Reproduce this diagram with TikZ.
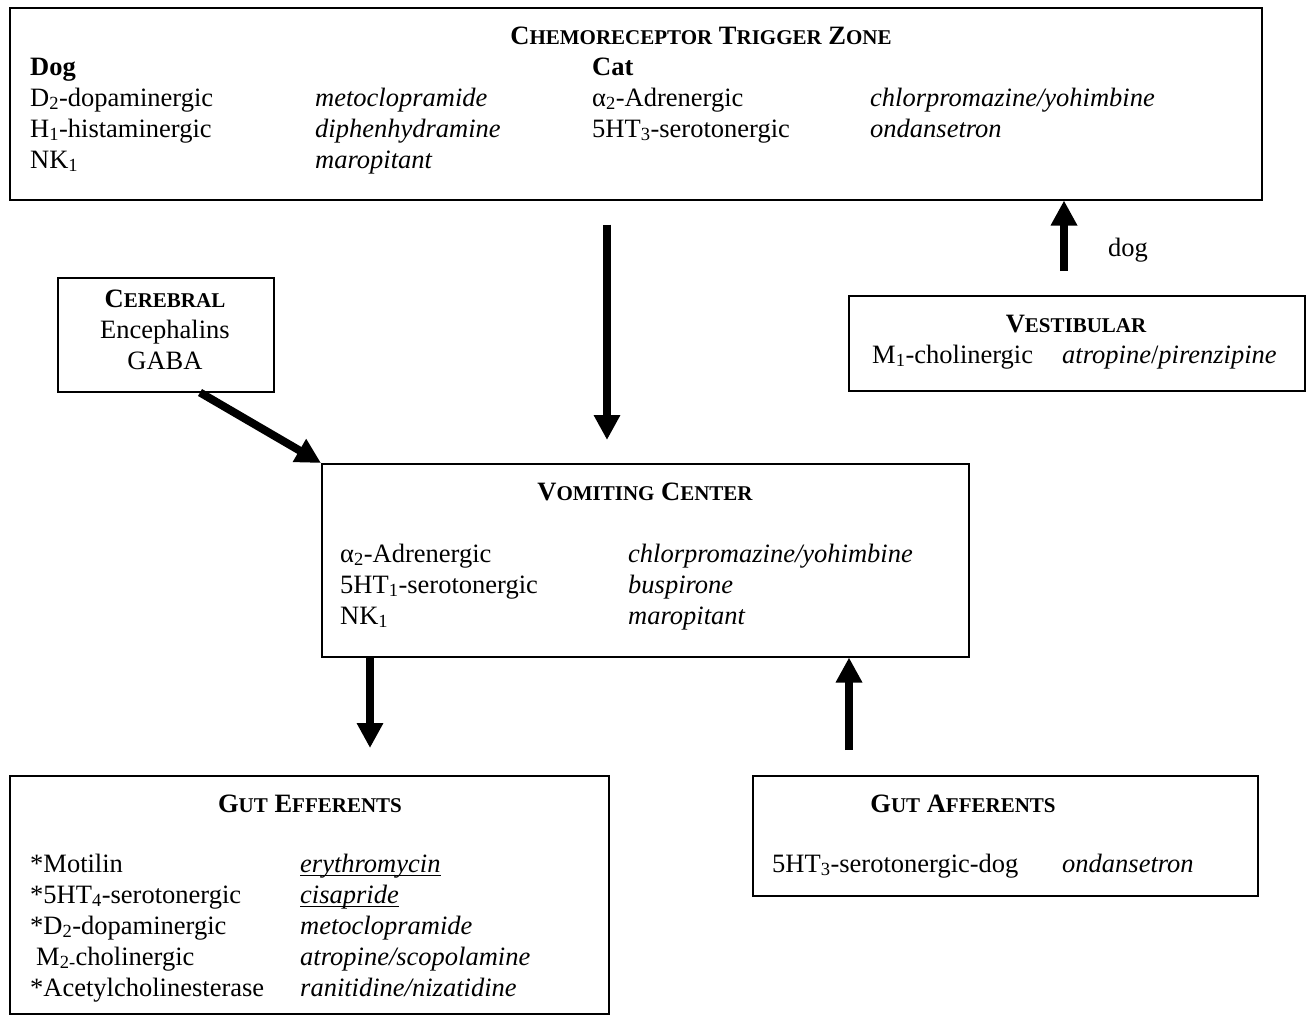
\documentclass[tikz,border=0pt]{standalone}
\usepackage{fontspec}
\setmainfont{Liberation Serif}
\usetikzlibrary{arrows.meta}
\newcommand\SmCap[2]{#1{\fontsize{21}{24}\selectfont #2}}
\newcommand\myul[1]{\setbox0\hbox{#1}\rlap{\rule[-4pt]{\wd0}{1.3pt}}\box0}
\tikzset{
  box/.style={draw, line width=1.5pt, inner sep=0pt, anchor=north west},
  txt/.style={inner sep=0pt, anchor=base west, font=\fontsize{26.5}{30.5}\selectfont},
  ctxt/.style={inner sep=0pt, anchor=base, font=\fontsize{26.5}{30.5}\selectfont},
  ttl/.style={inner sep=0pt, anchor=base, font=\fontsize{26.5}{30.5}\selectfont\bfseries},
  bigarrow/.style={line width=8pt, -{Triangle[length=25pt,width=25pt]}}
}
\begin{document}
\begin{tikzpicture}[x=1pt,y=-1pt]
\useasboundingbox[fill=white] (0,0) rectangle (1308,1015);
% boxes
\node[box, minimum width=1252pt, minimum height=192pt] (ctz) at (9,7) {};
\node[box, minimum width=216pt, minimum height=114pt] (cer) at (57,277) {};
\node[box, minimum width=456pt, minimum height=95pt] (vest) at (848,295) {};
\node[box, minimum width=647pt, minimum height=193pt] (vc) at (321,463) {};
\node[box, minimum width=599pt, minimum height=238pt] (ge) at (9,775) {};
\node[box, minimum width=505pt, minimum height=120pt] (ga) at (752,775) {};
% CTZ text
\node[ttl] (ctzt) at (701,44) {\SmCap{C}{HEMORECEPTOR} \SmCap{T}{RIGGER} \SmCap{Z}{ONE}};
\node[txt, font=\fontsize{26.5}{30.5}\selectfont\bfseries] (dog) at (30,75) {Dog};
\node[txt, font=\fontsize{26.5}{30.5}\selectfont\bfseries] (cat) at (592,75) {Cat};
\node[txt] (c1) at (30,106) {D\textsubscript{2}-dopaminergic};
\node[txt] (c2) at (30,137) {H\textsubscript{1}-histaminergic};
\node[txt] (c3) at (30,168) {NK\textsubscript{1}};
\node[txt] (d1) at (315,106) {\itshape metoclopramide};
\node[txt] (d2) at (315,137) {\itshape diphenhydramine};
\node[txt] (d3) at (315,168) {\itshape maropitant};
\node[txt] (c4) at (592,106) {α\textsubscript{2}-Adrenergic};
\node[txt] (c5) at (592,137) {5HT\textsubscript{3}-serotonergic};
\node[txt] (d4) at (870,106) {\itshape chlorpromazine/yohimbine};
\node[txt] (d5) at (870,137) {\itshape ondansetron};
% Cerebral
\node[ttl] (cert) at (165,307) {\SmCap{C}{EREBRAL}};
\node[ctxt] (cer1) at (165,338) {Encephalins};
\node[ctxt] (cer2) at (165,369) {GABA};
% Vestibular
\node[ttl] (vestt) at (1076,332) {\SmCap{V}{ESTIBULAR}};
\node[txt] (v1) at (872,363) {M\textsubscript{1}-cholinergic};
\node[txt] (v2) at (1062,363) {\itshape atropine\/\upshape/\itshape pirenzipine};
\node[txt] (doglab) at (1108,256) {dog};
% Vomiting center
\node[ttl] (vct) at (645,500) {\SmCap{V}{OMITING} \SmCap{C}{ENTER}};
\node[txt] (vc1) at (340,562) {α\textsubscript{2}-Adrenergic};
\node[txt] (vc2) at (340,593) {5HT\textsubscript{1}-serotonergic};
\node[txt] (vc3) at (340,624) {NK\textsubscript{1}};
\node[txt] (vd1) at (628,562) {\itshape chlorpromazine/yohimbine};
\node[txt] (vd2) at (628,593) {\itshape buspirone};
\node[txt] (vd3) at (628,624) {\itshape maropitant};
% Gut efferents
\node[ttl] (get) at (310,812) {\SmCap{G}{UT} \SmCap{E}{FFERENTS}};
\node[txt] (g1) at (30,872) {*Motilin};
\node[txt] (g2) at (30,903) {*5HT\textsubscript{4}-serotonergic};
\node[txt] (g3) at (30,934) {*D\textsubscript{2}-dopaminergic};
\node[txt] (g4) at (36,965) {M\textsubscript{2-}cholinergic};
\node[txt] (g5) at (30,996) {*Acetylcholinesterase};
\node[txt] (gd1) at (300,872) {\myul{\itshape erythromycin}};
\node[txt] (gd2) at (300,903) {\myul{\itshape cisapride}};
\node[txt] (gd3) at (300,934) {\itshape metoclopramide};
\node[txt] (gd4) at (300,965) {\itshape atropine/scopolamine};
\node[txt] (gd5) at (300,996) {\itshape ranitidine/nizatidine};
% Gut afferents
\node[ttl] (gat) at (963,812) {\SmCap{G}{UT} \SmCap{A}{FFERENTS}};
\node[txt] (ga1) at (772,872) {5HT\textsubscript{3}-serotonergic-dog};
\node[txt] (ga2) at (1062,872) {\itshape ondansetron};
% arrow x positions
\coordinate (xa) at (607,0);
\coordinate (xb) at (1064,0);
\coordinate (xc) at (370,0);
\coordinate (xd) at (849,0);
% arrows
\draw[bigarrow, shorten <=24pt, shorten >=23pt] (ctz.south -| xa) -- (vc.north -| xa);
\draw[bigarrow, shorten <=24pt] (vest.north -| xb) -- (ctz.south -| xb);
\draw[bigarrow] ([xshift=143pt]cer.south west) -- (vc.north west);
\draw[bigarrow, shorten >=27pt] (vc.south -| xc) -- (ge.north -| xc);
\draw[bigarrow, shorten <=25pt] (ga.north -| xd) -- (vc.south -| xd);
\end{tikzpicture}
\end{document}
